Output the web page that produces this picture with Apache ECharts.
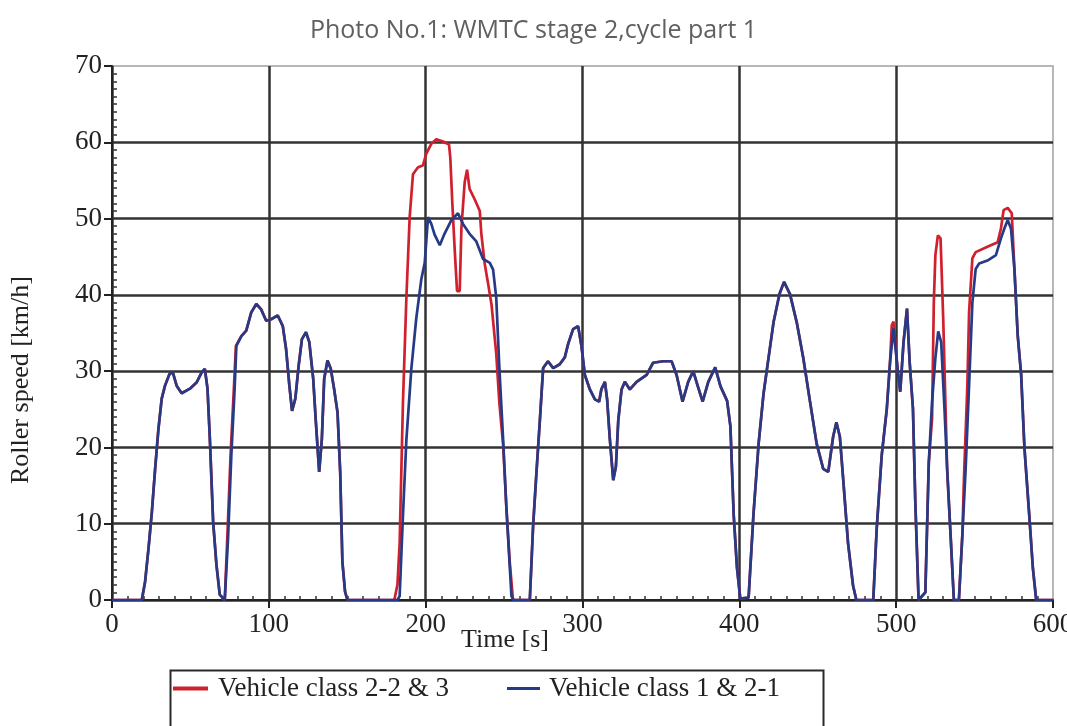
<!DOCTYPE html>
<html>
<head>
<meta charset="utf-8">
<script src="https://cdn.jsdelivr.net/npm/echarts@6/dist/echarts.min.js"></script>
<style>html,body{margin:0;padding:0;background:#fff;}#chart{width:1067px;height:726px;}</style>
</head>
<body>
<div id="chart"></div>
<script>
const titleText = 'Photo No.1: WMTC stage 2,cycle part 1';
const xAxisName = 'Time [s]';
const yAxisName = 'Roller speed [km/h]';
const seriesNames = ['Vehicle class 2-2 & 3', 'Vehicle class 1 & 2-1'];

// Vehicle class 2-2 & 3 (red)
const timeClass22and3 = [0,19,21.1,23.3,25.4,27.5,29.6,31.7,33.8,36.6,38.7,41.2,44.4,49.7,53.9,57.1,59.2,60.9,62.4,64.5,66.6,68.7,71.9,73.5,75.6,77.7,79,82.5,85.6,88.8,92,95.1,98.3,101.5,105.7,108.9,111,113.1,114.8,116.9,119,121.1,123.7,125.8,128.3,130,132.1,133.8,135.3,137.4,139.5,141.6,143.8,145.5,146.9,148.6,150.1,
180,182,183.4,185.5,187.7,189.8,191.9,195,198.3,200.4,203.6,206.8,211,214.9,215.7,217,218.5,220,221.7,222.8,224.9,226.4,228,231.3,234.5,235.5,237.7,239.8,242,245,247,249.4,251.5,253.6,255.7,
266.4,268.5,270.6,272.8,274.9,278,281.3,285.5,288.7,290.9,294,297.2,299.4,301.5,304.7,307.9,310.6,312,314.3,315.7,317.4,319.6,321.3,322.8,324.9,327,330.2,334.5,340.9,345,351.5,356.8,360,363.8,367.4,370.6,373.4,376.6,380.2,384.6,388,392.2,394.3,396.4,398.5,400.6,405.9,409,412.3,415.4,418.6,421.8,425.6,428.5,432.3,436.6,440.8,445,449.3,453.5,456.7,459.8,461.9,464.1,466.2,469.3,472.5,474.6,
485.4,487.6,490.8,494,496.1,497.2,498.3,500.9,502.6,504.7,506.9,508.6,510.7,512.2,514.3,518.6,520.8,522.9,524,525,526.6,528.3,530,531.5,532.5,534.7,536.8,540,542.2,543.3,545.4,546.5,548.6,550.7,558.2,564.7,566.8,568.5,571.1,573.7,575.4,577.5,579.7,581.8,585,587.2,589.3,600];
const speedClass22and3 = [0,0,2.4,6.8,11.5,17.2,22.4,26.4,28.1,29.6,29.9,28.1,27.1,27.7,28.5,29.8,30.3,27.7,21.1,10.2,4.6,0.7,0,8.1,19,27.7,33.3,34.6,35.3,37.7,38.8,38.1,36.6,36.8,37.3,35.9,32.9,28.1,24.8,26.4,30.7,34.2,35.1,33.8,29,23.3,16.8,21.1,29,31.4,30.3,27.7,24.6,16.8,5,1.1,0,
0,2,7.4,25.8,39.6,50.2,55.8,56.7,57,58.5,59.8,60.4,60.1,59.7,58,52,46,40.5,40.5,48.8,54.8,56.4,53.9,52.5,51,48,44,41.5,38.7,32.3,25.8,20.3,12,5,0,
0,9.7,16.6,23.5,30.4,31.3,30.4,30.9,31.8,33.6,35.5,35.9,33.2,29.5,27.6,26.3,26,27.6,28.6,26.3,21.2,15.7,17.5,23.5,27.6,28.6,27.6,28.6,29.5,31.1,31.3,31.3,29.5,26,28.6,30,28.1,26,28.6,30.5,28,26.1,22.8,11.2,4.2,0.2,0.3,11.2,20.5,27,31.7,36.4,40.1,41.7,40.1,36.4,31.7,26.1,20.5,17.2,16.8,21.4,23.3,21.4,15.9,7.5,1.9,0,
0,9.4,19,25,31.2,36,36.5,30.3,27.3,33.8,38.2,31.2,25.1,12.9,0,1,18,23.8,39,45.2,47.8,47.4,36.9,25.1,17.2,8.5,0,0,8.5,16.4,28.2,37.8,44.8,45.6,46.3,46.9,48.7,51.1,51.4,50.7,43.4,34.7,29.5,19.9,10.7,4.1,0,0];

// Vehicle class 1 & 2-1 (blue)
const timeClass1and21 = [0,19,21.1,23.3,25.4,27.5,29.6,31.7,33.8,36.6,38.7,41.2,44.4,49.7,53.9,57.1,59.2,60.9,62.4,64.5,66.6,68.7,71.9,74,76.1,78.2,79.3,82.5,85.6,88.8,92,95.1,98.3,101.5,105.7,108.9,111,113.1,114.8,116.9,119,121.1,123.7,125.8,128.3,130,132.1,133.8,135.3,137.4,139.5,141.6,143.8,145.5,146.9,148.6,150.1,
182,183.4,185.5,187.7,190.9,194,197.2,199.4,201.5,203.6,205.7,209,212,216.4,220.6,223.8,228,232.3,236.6,240.9,243,245,247,249.4,251.5,254.7,256,
266.4,268.5,270.6,272.8,274.9,278,281.3,285.5,288.7,290.9,294,297.2,299.4,301.5,304.7,307.9,310.6,312,314.3,315.7,317.4,319.6,321.3,322.8,324.9,327,330.2,334.5,340.9,345,351.5,356.8,360,363.8,367.4,370.6,373.4,376.6,380.2,384.6,388,392.2,394.3,396.4,398.5,400.6,405.9,409,412.3,415.4,418.6,421.8,425.6,428.5,432.3,436.6,440.8,445,449.3,453.5,456.7,459.8,461.9,464.1,466.2,469.3,472.5,474.6,
485.4,487.6,490.8,494,496.1,498.3,500.9,502.6,504.7,506.9,508.6,510.7,512.2,514.3,518.6,520.8,522.9,525,526.8,528.7,530.8,532.5,534.7,536.8,540,542.2,544.3,546.5,548.6,550.7,552.9,558.2,563.6,566.8,569,571.1,573.2,575.4,577.5,579.7,581.8,585,587.2,589.3,600];
const speedClass1and21 = [0,0,2.4,6.8,11.5,17.2,22.4,26.4,28.1,29.6,29.9,28.1,27.1,27.7,28.5,29.8,30.3,27.7,21.1,10.2,4.6,0.7,0,8.1,19,27.7,33.3,34.6,35.3,37.7,38.8,38.1,36.6,36.8,37.3,35.9,32.9,28.1,24.8,26.4,30.7,34.2,35.1,33.8,29,23.3,16.8,21.1,29,31.4,30.3,27.7,24.6,16.8,5,1.1,0,
0,0.5,11,21,30.4,36.9,42,44.2,50.2,49.3,47.9,46.5,48,49.8,50.7,49.3,48,47,44.7,44.2,43.3,39.6,30.4,21,12,0.5,0,
0,9.7,16.6,23.5,30.4,31.3,30.4,30.9,31.8,33.6,35.5,35.9,33.2,29.5,27.6,26.3,26,27.6,28.6,26.3,21.2,15.7,17.5,23.5,27.6,28.6,27.6,28.6,29.5,31.1,31.3,31.3,29.5,26,28.6,30,28.1,26,28.6,30.5,28,26.1,22.8,11.2,4.2,0.2,0.3,11.2,20.5,27,31.7,36.4,40.1,41.7,40.1,36.4,31.7,26.1,20.5,17.2,16.8,21.4,23.3,21.4,15.9,7.5,1.9,0,
0,9.4,19,25,31.2,35.6,30.3,27.3,33.8,38.2,31.2,25.1,12.9,0,1,18,26,31.7,35.2,33.8,25.1,17.2,8.5,0,0,8.5,17.2,28.2,39,43.4,44.1,44.5,45.2,47.4,48.7,49.8,48.7,43.4,34.7,29.5,19.9,10.7,4.1,0,0];

const xTicks = {min: 0, max: 600, interval: 100};
const yTicks = {min: 0, max: 70, interval: 10};

function zip(ts, vs) { return ts.map((t, i) => [t, vs[i]]); }

const serif = 'Liberation Serif';
const chart = echarts.init(document.getElementById('chart'), null, {renderer: 'canvas'});
chart.setOption({
  backgroundColor: '#ffffff',
  animation: false,
  title: {
    text: titleText, left: 'center', top: 13,
    textStyle: {fontFamily: 'Open Sans', fontSize: 25, fontWeight: 'normal', color: '#606060'}
  },
  grid: {left: 112, right: 14, top: 66, bottom: 126, outerBoundsMode: 'none', containLabel: false,
         show: true, borderColor: '#a0a0a0', borderWidth: 1.5},
  legend: [
    {data: [seriesNames[0]], left: 173, top: 675, icon: 'rect', itemWidth: 35, itemHeight: 4, padding: 0,
     textStyle: {fontFamily: serif, fontSize: 27, color: '#222', padding: [0, 0, 0, 5]}},
    {data: [seriesNames[1]], left: 507, top: 675, icon: 'rect', itemWidth: 33, itemHeight: 3, padding: 0,
     textStyle: {fontFamily: serif, fontSize: 27, color: '#222', padding: [0, 0, 0, 4]}}
  ],
  graphic: [{type: 'rect', left: 168, top: 668, shape: {width: 653, height: 80},
             style: {fill: 'none', stroke: '#2a2a2a', lineWidth: 2}, silent: true, z: 10}],
  xAxis: {
    type: 'value', min: xTicks.min, max: xTicks.max, interval: xTicks.interval,
    name: xAxisName, nameLocation: 'middle', nameGap: 27, nameMoveOverlap: false,
    nameTextStyle: {fontFamily: serif, fontSize: 26, color: '#222', padding: [0, 155, 0, 0]},
    axisLine: {show: true, onZero: false, lineStyle: {color: '#222', width: 2}},
    axisTick: {show: true, length: 8, lineStyle: {color: '#222', width: 2}},
    minorTick: {show: true, splitNumber: 10, length: -4, lineStyle: {color: '#333', width: 1.5}},
    splitLine: {show: true, showMaxLine: false, lineStyle: {color: '#333', width: 2.5}},
    axisLabel: {fontFamily: serif, fontSize: 27, color: '#222', margin: 11}
  },
  yAxis: {
    type: 'value', min: yTicks.min, max: yTicks.max, interval: yTicks.interval,
    name: yAxisName, nameLocation: 'middle', nameGap: 78, nameMoveOverlap: false,
    nameTextStyle: {fontFamily: serif, fontSize: 26, color: '#222', padding: [0, 94, 0, 0]},
    axisLine: {show: true, lineStyle: {color: '#222', width: 2}},
    axisTick: {show: true, length: 8, lineStyle: {color: '#222', width: 2}},
    minorTick: {show: true, splitNumber: 10, length: -5, lineStyle: {color: '#333', width: 1.5}},
    splitLine: {show: true, showMaxLine: false, lineStyle: {color: '#333', width: 2.5}},
    axisLabel: {fontFamily: serif, fontSize: 27, color: '#222', margin: 10}
  },
  series: [
    {name: seriesNames[0], type: 'line', data: zip(timeClass22and3, speedClass22and3), showSymbol: false,
     lineStyle: {color: '#d0202e', width: 2.7}, itemStyle: {color: '#d0202e'}, z: 3},
    {name: seriesNames[1], type: 'line', data: zip(timeClass1and21, speedClass1and21), showSymbol: false,
     lineStyle: {color: '#263a86', width: 2.7}, itemStyle: {color: '#263a86'}, z: 4}
  ]
});
</script>
</body>
</html>
